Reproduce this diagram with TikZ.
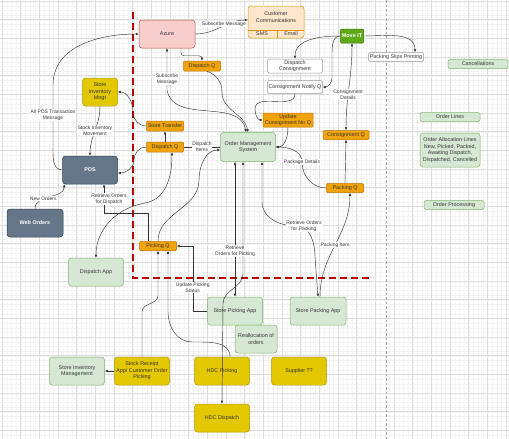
\documentclass[tikz,border=0pt]{standalone}
\usepackage{fontspec}
\setmainfont{Liberation Sans}
\usetikzlibrary{arrows.meta,calc}

\definecolor{qfill}{HTML}{F0A30A}
\definecolor{qline}{HTML}{BD7000}
\definecolor{yfill}{HTML}{E3C800}
\definecolor{yline}{HTML}{B09500}
\definecolor{gfill}{HTML}{D5E8D4}
\definecolor{gline}{HTML}{82B366}
\definecolor{sfill}{HTML}{647687}
\definecolor{sline}{HTML}{314354}
\definecolor{pfill}{HTML}{F8CECC}
\definecolor{pline}{HTML}{B85450}
\definecolor{cfill}{HTML}{FFE6CC}
\definecolor{cline}{HTML}{D79B00}
\definecolor{mfill}{HTML}{60A917}
\definecolor{mline}{HTML}{2D7600}
\definecolor{txt}{HTML}{333333}
\definecolor{edgecol}{HTML}{333333}
\definecolor{gridmin}{HTML}{F3F3F3}
\definecolor{gridmaj}{HTML}{DDDDDD}
\definecolor{redline}{HTML}{C00000}

\begin{document}
\begin{tikzpicture}[x=1pt,y=-1pt,
    box/.style={draw, rounded corners=3pt, align=center, inner sep=0.8pt, text=txt,
      font=\fontsize{5.4}{6.6}\selectfont, line width=0.5pt},
    green box/.style={box, fill=gfill, draw=gline},
    yellow box/.style={box, fill=yfill, draw=yline, minimum width=55, minimum height=28},
    queue/.style={box, fill=qfill, draw=qline, rounded corners=1pt},
    slate/.style={box, fill=sfill, draw=sline, text=white,
      font=\fontsize{5.4}{6.6}\selectfont\bfseries, minimum width=55, minimum height=28},
    whitebox/.style={box, fill=white, draw=gray!80, rounded corners=1.5pt},
    txtonly/.style={inner sep=0pt, align=center, text=txt, font=\fontsize{5.4}{6.6}\selectfont},
    conn/.style={draw=edgecol, line width=0.45pt, -{Latex[length=3pt,width=2.6pt]}},
    twoway/.style={conn, {Latex[length=3pt,width=2.6pt]}-{Latex[length=3pt,width=2.6pt]}},
    lbl/.style={fill=white, inner sep=0.5pt, align=center, text=txt, font=\fontsize{5}{6}\selectfont}]

        \useasboundingbox (0,0) rectangle (509,439);
        \fill[white] (0,0) rectangle (509,439);

        % background grid
        \foreach \gx in {0,...,108}
            \draw[gridmin, line width=0.3pt] ({2+4.667*\gx},0) -- ({2+4.667*\gx},439);
        \foreach \gy in {0,...,93}
            \draw[gridmin, line width=0.3pt] (0,{1+4.667*\gy}) -- (509,{1+4.667*\gy});
        \foreach \gx in {0,...,27}
            \draw[gridmaj, line width=0.4pt] ({2+18.667*\gx},0) -- ({2+18.667*\gx},439);
        \foreach \gy in {0,...,23}
            \draw[gridmaj, line width=0.4pt] (0,{1+18.667*\gy}) -- (509,{1+18.667*\gy});

        % page break and zone boundary
        \draw[gray!70, line width=0.6pt, dash pattern=on 2.5pt off 2pt] (386,0) -- (386,439);
        \draw[redline, line width=1.6pt, dash pattern=on 7pt off 4pt] (133,12) -- (133,278) -- (373,278);

        % top row
        \node[box, fill=pfill, draw=pline, minimum width=56, minimum height=28] (azure) at (167,34) {Azure};
        \node[box, fill=cfill, draw=cline, minimum width=56, minimum height=32] (custcomm) at (276,22) {};
        \draw[cline, line width=0.5pt] ($(custcomm.south west)+(0,-8)$) -- ($(custcomm.south east)+(0,-8)$);
        \draw[cline, line width=0.5pt] ($(custcomm.south)+(1,0)$) -- ($(custcomm.south)+(1,-8)$);
        \node[txtonly] (ccname) at (276,17) {Customer\\Communications};
        \node[txtonly] (ccsms) at (262,34) {SMS};
        \node[txtonly] (ccemail) at (291,34) {Email};
        \node[queue, minimum width=37, minimum height=10] (dispqa) at (202,66) {Dispatch Q};
        \node[box, fill=mfill, draw=mline, text=white, font=\fontsize{5.4}{6.6}\selectfont\bfseries,
              rounded corners=1pt, minimum width=23, minimum height=14] (moveit) at (352,36) {Move IT};
        \node[whitebox, minimum width=55, minimum height=14] (dcons) at (295,66) {Dispatch\\Consignment};
        \node[whitebox, minimum width=55, minimum height=13] (cnq) at (295,87) {Consignment Notify Q};
        \node[whitebox, minimum width=55, minimum height=9] (psp) at (396,57) {Packing Slips Printing};

        % legend column
        \node[green box, rounded corners=1.5pt, minimum width=60, minimum height=9] (cancel) at (478,64) {Cancellations};
        \node[green box, rounded corners=1.5pt, minimum width=60, minimum height=9] (olines) at (450,117) {Order Lines};
        \node[green box, minimum width=60, minimum height=34] (oalloc) at (450,150)
            {Order Allocation Lines\\New, Picked, Packed,\\Awaiting Dispatch,\\Dispatched, Cancelled};
        \node[green box, rounded corners=1.5pt, minimum width=60, minimum height=9] (oproc) at (454,205) {Order Processing};

        % middle
        \node[yellow box, minimum width=35] (sim) at (100,92) {Store\\Inventory\\Mngt};
        \node[queue, minimum width=37, minimum height=10] (strans) at (165,126) {Store Transfer};
        \node[queue, minimum width=37, minimum height=10] (dispqb) at (165,147) {Dispatch Q};
        \node[queue, minimum width=50, minimum height=14] (ucnq) at (288,120) {Update\\Consignment No Q};
        \node[queue, minimum width=46, minimum height=9] (consq) at (346,135) {Consignment Q};
        \node[green box, minimum width=55, minimum height=29] (oms) at (248,147) {Order Management\\System};
        \node[slate] (pos) at (90,170) {POS};
        \node[slate, minimum width=56] (web) at (35,223) {Web Orders};
        \node[queue, minimum width=37, minimum height=9] (pickq) at (158,246) {Picking Q};
        \node[queue, minimum width=37, minimum height=9] (packq) at (345,188) {Packing Q};
        \node[green box, minimum width=55, minimum height=28] (dapp) at (96,272) {Dispatch App};

        % bottom
        \node[green box, minimum width=55, minimum height=28] (pickapp) at (235,311) {Store Picking App};
        \node[green box, minimum width=42, minimum height=28] (realloc) at (256,339) {Reallocation of\\orders};
        \node[green box, minimum width=56, minimum height=28] (packapp) at (318,311) {Store Packing App};
        \node[green box, minimum width=55, minimum height=28] (invmgmt) at (77,371) {Store Inventory\\Management};
        \node[yellow box] (receipt) at (142,371) {Stock Receipt\\App/ Customer Order\\Picking};
        \node[yellow box] (hdcpick) at (222,371) {HDC Picking};
        \node[yellow box] (hdcdisp) at (222,418) {HDC Dispatch};
        \node[yellow box] (supplier) at (299,371) {Supplier ??};

        % connectors
        \draw[conn] (azure.east) to[out=0,in=180] node[lbl,pos=0.55,yshift=2pt]{Subscribe Message} ($(custcomm.west)+(0,-2)$);
        \draw[conn, rounded corners=3pt] ($(azure.south)+(14,0)$) |- ($(dispqa.north)+(0,-5)$) -- (dispqa.north);
        \draw[conn] ($(dispqa.south)+(5,0)$) to[out=-20,in=90] (222,92) to[out=-90,in=100] (oms.north);
        \draw[twoway] (azure.south) -- node[lbl,pos=0.75]{Subscribe\\Message} (167,90) to[out=-80,in=100] ($(oms.north)+(-2,0)$);
        \draw[edgecol, line width=0.45pt] (oms.west) -- node[lbl]{Dispatch\\Items} (dispqb.east);
        \draw[conn] (dispqb.north) -- (strans.south);
        \draw[conn] (strans.west) to[out=180,in=-90] (133,112) to[out=90,in=0] (sim.east);
        \draw[conn] (sim.south) to[out=-90,in=90] node[lbl]{Stock Inventory\\Movement} (pos.north);
        \draw[conn] (pos.west) to[out=180,in=-90] (53,145) -- node[lbl]{All POS Transaction\\Message} (53,85) to[out=90,in=180] (azure.west);
        \draw[conn] (dispqb.west) to[out=180,in=90] (134,160) to[out=-90,in=0] ($(pos.east)+(0,3)$);
        \draw[conn] (web.north) to[out=90,in=-90] node[lbl,pos=0.35]{New Orders} ($(pos.south west)+(2,0)$);
        \draw[conn] ($(pickq.north)+(-10,0)$) |- ($(pos.south)+(14,29)$) -- node[lbl,xshift=5pt]{Retrieve Orders\\for Dispatch} ($(pos.south)+(14,0)$);
        \draw[twoway] (dapp.north) to[out=90,in=190] (145,203) to[out=10,in=-90] ($(dispqb.south)+(7,0)$);
        \draw[conn] (pickq.north) to[out=90,in=-90] (199,180) to[out=90,in=180] ($(oms.west)+(0,3)$);
        \draw[conn] (receipt.north) -- ($(receipt.north)+(0,-45)$) to[out=90,in=-90] ($(pickq.south)+(0,45)$) -- (pickq.south);
        \draw[conn] ($(hdcpick.north)+(8,0)$) to[out=90,in=0] (192,342) to[out=180,in=-90] (168,312) -- ($(pickq.south)+(10,0)$);
        \draw[conn] (pickapp.west) -| node[lbl,pos=0.68]{Update Picking\\Status} ($(pickq.east)+(16,0)$) -- (pickq.east);
        \draw[twoway] ($(oms.south)+(-13,0)$) -- node[lbl,pos=0.66]{Retrieve\\Orders for Picking} (pickapp.north);
        \draw[twoway] ($(oms.south)+(-5,0)$) -- ($(oms.south)+(-5,112)$) to[out=-90,in=90] ($(hdcdisp.north)+(1,-100)$) -- (hdcdisp.north);
        \draw[twoway] ($(oms.south)+(14,0)$) -- ($(oms.south)+(14,40)$) to[out=-90,in=180] (296,226)
            node[lbl,xshift=8pt]{Retrieve Orders\\for Packing} to[out=0,in=90] ($(packapp.north)+(-3,-40)$) -- (packapp.north);
        \draw[conn] ($(packapp.north)+(2,0)$) to[out=90,in=-90] node[lbl]{Packing Item} ($(packq.south)+(5,0)$);
        \draw[conn] (packq.north) -- (consq.south);
        \draw[conn] (packq.west) to[out=180,in=-90] (302,162) node[lbl]{Package Details} to[out=90,in=0] (oms.east);
        \draw[twoway] (consq.north) to[out=90,in=-90] node[lbl,pos=0.4]{Consignment\\Details} (moveit.south);
        \draw[conn] (moveit.west) to[out=180,in=90] (dcons.north);
        \draw[conn] (moveit.west) to[out=180,in=90] (332,55) -- (332,78) to[out=-90,in=0] (cnq.east);
        \draw[conn] (moveit.east) to[out=0,in=90] ($(psp.north)+(19,0)$);
        \draw[conn] (cnq.south) to[out=-90,in=90] (255,109) to[out=-90,in=180] (ucnq.west);
        \draw[conn] (ucnq.south) to[out=-90,in=0] (oms.east);
        \draw[conn] (receipt.west) -- (invmgmt.east);
\end{tikzpicture}
\end{document}
